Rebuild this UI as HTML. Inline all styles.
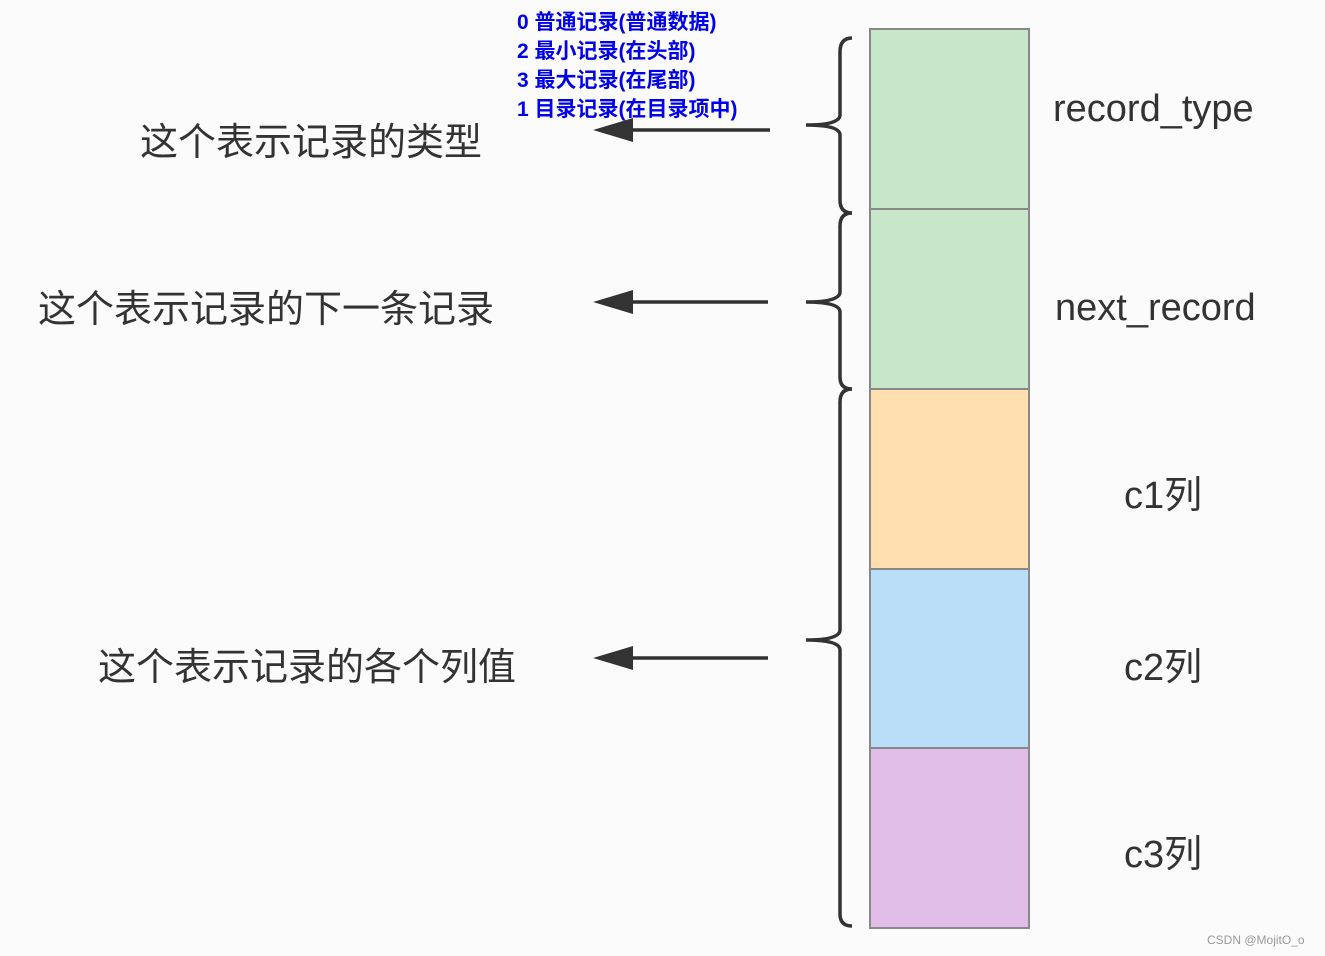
<!DOCTYPE html>
<html><head><meta charset="utf-8"><style>
html,body{margin:0;padding:0;background:#fbfbfb;}
svg{display:block;}
</style></head><body>
<svg width="1325" height="956" viewBox="0 0 1325 956" xmlns="http://www.w3.org/2000/svg">
<rect width="1325" height="956" fill="#fbfbfb"/>
<g stroke="#888" stroke-width="2">
<rect x="870" y="29" width="159" height="180" fill="#c8e6c9"/>
<rect x="870" y="209" width="159" height="180" fill="#c8e6c9"/>
<rect x="870" y="389" width="159" height="180" fill="#ffdfb0"/>
<rect x="870" y="569" width="159" height="179" fill="#bbdef8"/>
<rect x="870" y="748" width="159" height="180" fill="#e1bee7"/>
</g>
<g fill="none" stroke="#333" stroke-width="3.5">
<path d="M852,38 Q840,38 840,52 L840,115 Q840,125 806,125 Q840,125 840,135 L840,200 Q840,213 852,213"/>
<path d="M852,213 Q840,213 840,226 L840,292 Q840,302 806,302 Q840,302 840,312 L840,377 Q840,389 852,389"/>
<path d="M852,389 Q840,389 840,402 L840,630 Q840,640 806,640 Q840,640 840,650 L840,914 Q840,926 852,926"/>
<line x1="770" y1="130" x2="625" y2="130"/>
<line x1="768" y1="302" x2="625" y2="302"/>
<line x1="768" y1="658" x2="625" y2="658"/>
</g>
<g fill="#333">
<polygon points="593,130 633,118 633,142"/>
<polygon points="593,302 633,290 633,314"/>
<polygon points="593,658 633,646 633,670"/>
</g>
<g font-family="'Liberation Sans','Noto Sans CJK SC',sans-serif" fill="#333" font-size="38">
<text x="140" y="155">这个表示记录的类型</text>
<text x="38" y="322">这个表示记录的下一条记录</text>
<text x="98" y="680">这个表示记录的各个列值</text>
<text x="1053" y="121">record_type</text>
<text x="1055" y="320">next_record</text>
<text x="1124" y="508">c1列</text>
<text x="1124" y="680">c2列</text>
<text x="1124" y="867">c3列</text>
</g>
<g font-family="'Liberation Sans','Noto Sans CJK SC',sans-serif" fill="#0000ee" font-size="21" font-weight="bold">
<text x="517" y="29">0 普通记录(普通数据)</text>
<text x="517" y="58">2 最小记录(在头部)</text>
<text x="517" y="87">3 最大记录(在尾部)</text>
<text x="517" y="116">1 目录记录(在目录项中)</text>
</g>
<text x="1207" y="944" font-family="'Liberation Sans',sans-serif" font-size="12" fill="#999">CSDN @MojitO_o</text>
</svg>
</body></html>
